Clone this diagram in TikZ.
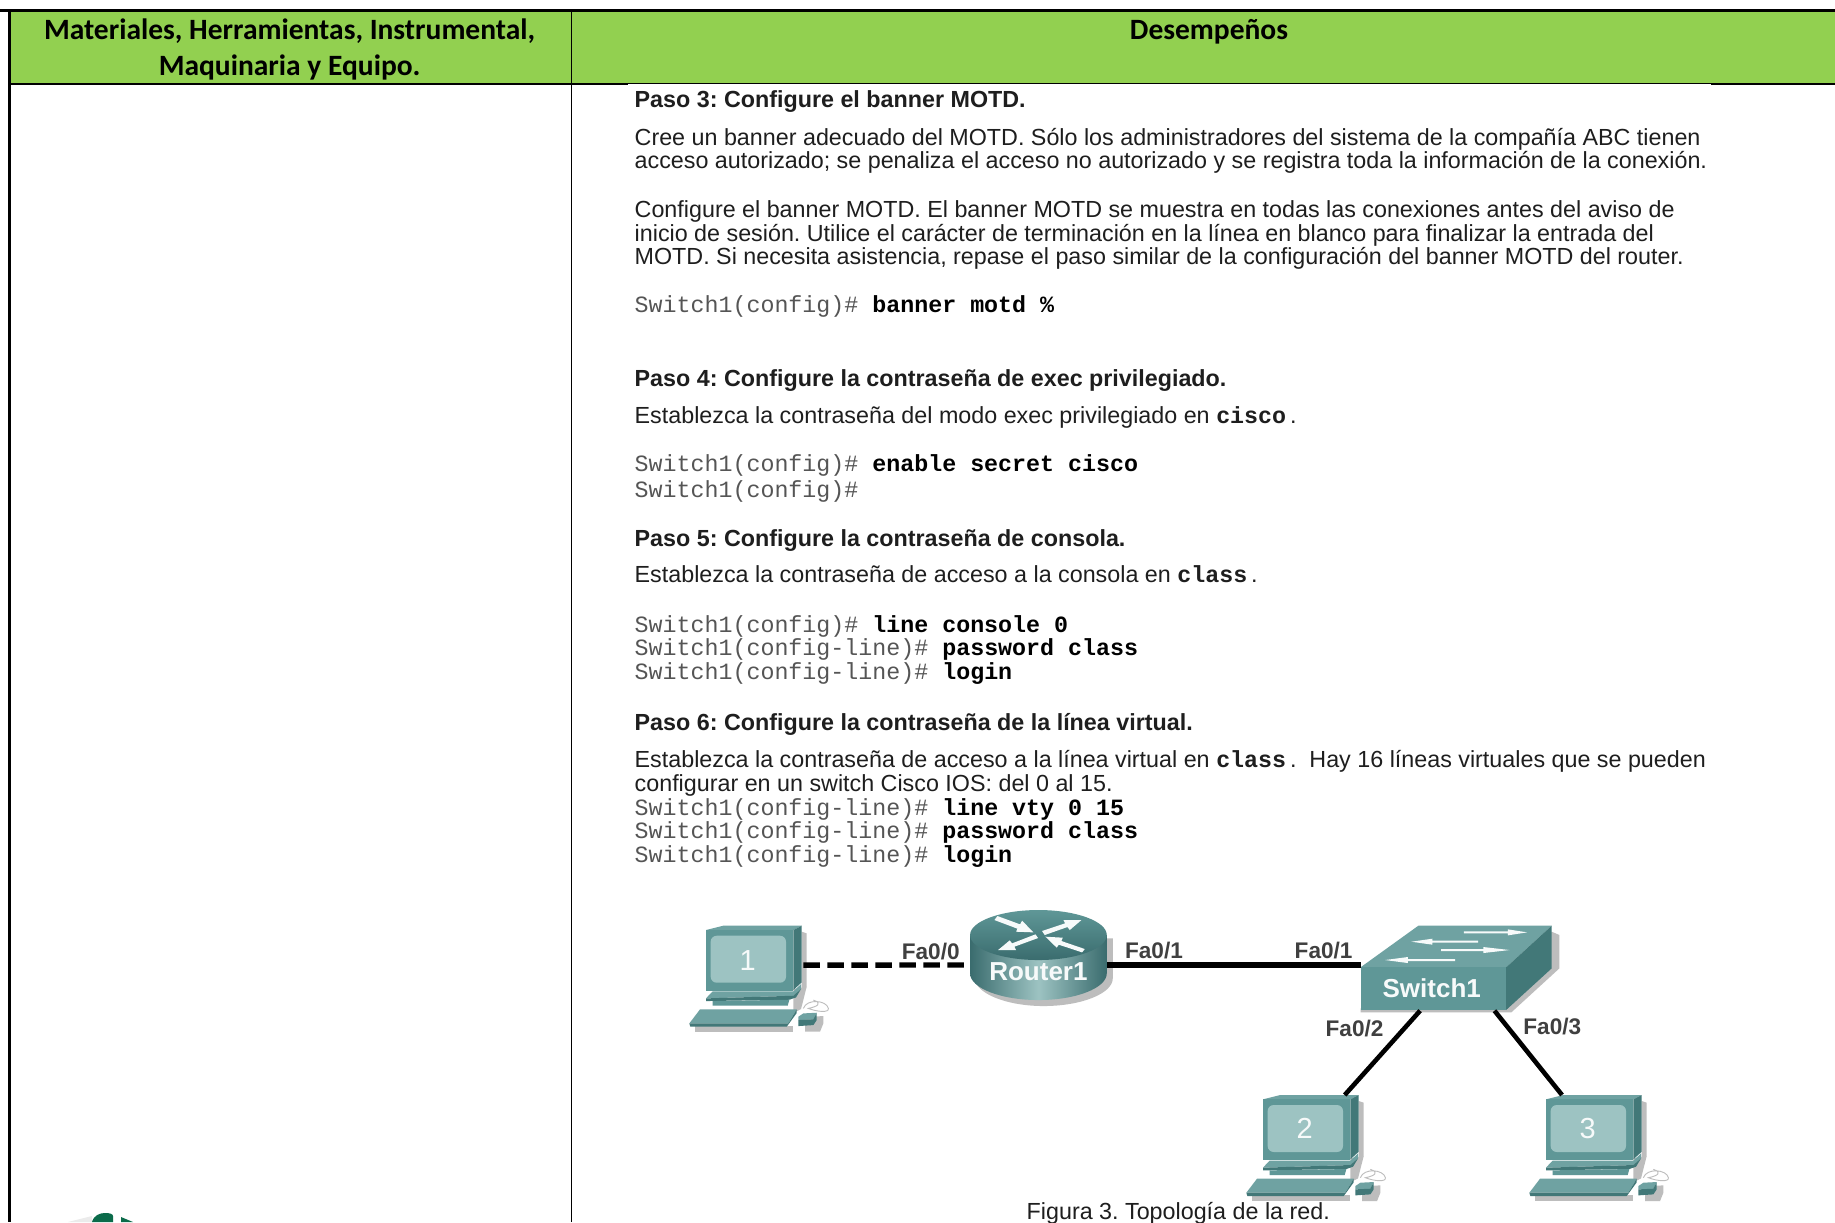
\documentclass[tikz,border=0pt]{standalone}
\usepackage{fontspec}
\setmainfont{Liberation Sans}
\setmonofont{Liberation Mono}
\newfontfamily\hdfont{Carlito}
\definecolor{hdgreen}{HTML}{92D050}
\definecolor{tealfront}{HTML}{5F9797}
\definecolor{tealtop}{HTML}{6FA2A2}
\definecolor{tealside}{HTML}{427878}
\definecolor{tealdark}{HTML}{3A6C6E}
\definecolor{teallight}{HTML}{9DC3C2}
\definecolor{shadowgr}{HTML}{BDBDBD}
\definecolor{inkgr}{HTML}{1E1E1E}
\definecolor{codegr}{HTML}{555555}
\definecolor{logogreen}{HTML}{0B6B4A}
\newcommand{\cmdb}[1]{{\bfseries\color{black}#1}}
\tikzset{
  rule/.style={black,line width=1.1pt},
  hdtext/.style={font=\hdfont\fontsize{14.75}{17}\selectfont\bfseries,anchor=base,inner sep=0pt,text=black},
  bodytext/.style={font=\frenchspacing\fontsize{11.65}{13}\selectfont,anchor=base west,inner sep=0pt,text=inkgr},
  headtext/.style={font=\frenchspacing\fontsize{11.65}{13}\selectfont\bfseries,anchor=base west,inner sep=0pt,text=inkgr},
  codetext/.style={font=\ttfamily\fontsize{11.65}{13}\selectfont,anchor=base west,inner sep=0pt,text=codegr},
  portlabel/.style={font=\fontsize{11.3}{13}\selectfont\bfseries,inner sep=0pt,text=inkgr!85},
  devlabel/.style={font=\fontsize{13}{15}\selectfont\bfseries,inner sep=0pt,text=white!92!teallight},
  pcnum/.style={font=\fontsize{14.5}{16}\selectfont,inner sep=0pt,text=white!92!teallight},
  link/.style={black,line width=2.7pt},
  dashlink/.style={link,dash pattern=on 8.2pt off 3.8pt},
  pcicon/.pic={
    \fill[shadowgr] (287,18)--(302,23)--(302,183)--(287,190)--cycle;
    \fill[shadowgr] (262,190)--(302,183)--(285,250)--(262,262)--cycle;
    \fill[shadowgr] (-33,300)--(262,300)--(262,318)--(-33,318)--cycle;
    \fill[tealtop] (0,13)--(52,0)--(287,0)--(262,13)--cycle;
    \fill[tealfront] (0,13)--(262,13)--(262,195)--(0,195)--cycle;
    \fill[tealside] (262,13)--(287,0)--(287,170)--(262,193)--cycle;
    \fill[teallight,rounded corners=3pt] (14,30) rectangle (240,171);
    \fill[tealtop] (10,207)--(20,197)--(262,197)--(285,175)--(285,190)--(262,210)--(0,218)--cycle;
    \fill[tealside] (0,218)--(262,210)--(285,190)--(270,215)--(250,222)--(0,226)--cycle;
    \fill[tealfront] (20,226)--(250,222)--(245,240)--(20,240)--cycle;
    \fill[tealtop] (-50,293)--(-18,251)--(272,251)--(247,293)--cycle;
    \fill[tealside] (-50,293)--(247,293)--(272,251)--(272,262)--(242,303)--(-47,303)--cycle;
    \draw[shadowgr,line width=.45pt] (292,248) .. controls (302,218) and (362,223) .. (367,248) .. controls (370,262) and (332,258) .. (307,248) .. controls (332,243) and (352,233) .. (322,223);
    \fill[shadowgr] (297,283)--(312,273)--(352,271)--(352,293)--(342,318)--(297,318)--cycle;
    \fill[tealtop] (277,273)--(292,263)--(332,261)--(322,281)--(277,283)--cycle;
    \fill[tealside] (277,283)--(322,281)--(332,261)--(332,283)--(322,298)--(277,301)--cycle;
  }
}
\begin{document}
\begin{tikzpicture}[x=0.5pt,y=-0.5pt]
\useasboundingbox (0,0) rectangle (1835,1222);
\fill[white] (0,0) rectangle (1835,1222);
\clip (0,0) rectangle (1835,1222);
% table
\fill[hdgreen] (9,10) rectangle (1835,84);
\draw[rule,line width=1.7pt] (0,10.5) -- (1835,10.5);
\draw[rule] (8,84) -- (628,84);
\draw[rule,line width=.6pt] (628,83.5) -- (1711,83.5);
\draw[rule] (1711,84) -- (1835,84);
\draw[rule,line width=1.05pt] (9.5,10) -- (9.5,1222);
\draw[rule,line width=.8pt] (571.3,10) -- (571.3,1222);
\node[hdtext] (h1a) at (289.6,39) {Materiales, Herramientas, Instrumental,};
\node[hdtext] (h1b) at (289.6,75) {Maquinaria y Equipo.};
\node[hdtext] (h2) at (1209,39) {Desempeños};
% text
\node[headtext] (p3) at (634.3,107.5) {Paso 3: Configure el banner MOTD.};
\node[bodytext] (t1) at (634.3,145) {Cree un banner adecuado del MOTD. Sólo los administradores del sistema de la compañía ABC tienen};
\node[bodytext] (t2) at (634.3,168.5) {acceso autorizado; se penaliza el acceso no autorizado y se registra toda la información de la conexión.};
\node[bodytext] (t3) at (634.3,217.5) {Configure el banner MOTD. El banner MOTD se muestra en todas las conexiones antes del aviso de};
\node[bodytext] (t4) at (634.3,241) {inicio de sesión. Utilice el carácter de terminación en la línea en blanco para finalizar la entrada del};
\node[bodytext] (t5) at (634.3,264.5) {MOTD. Si necesita asistencia, repase el paso similar de la configuración del banner MOTD del router.};
\node[codetext] (c1) at (634.3,312.5) {Switch1(config)\# \cmdb{banner motd \%}};
\node[headtext] (p4) at (634.3,386) {Paso 4: Configure la contraseña de exec privilegiado.};
\node[bodytext] (t6) at (634.3,423.5) {Establezca la contraseña del modo exec privilegiado en {\ttfamily\bfseries cisco}\,.};
\node[codetext] (c2) at (634.3,471.5) {Switch1(config)\# \cmdb{enable secret cisco}};
\node[codetext] (c3) at (634.3,497) {Switch1(config)\#};
\node[headtext] (p5) at (634.3,546.5) {Paso 5: Configure la contraseña de consola.};
\node[bodytext] (t7) at (634.3,582.5) {Establezca la contraseña de acceso a la consola en {\ttfamily\bfseries class}\,.};
\node[codetext] (c4) at (634.3,632) {Switch1(config)\# \cmdb{line console 0}};
\node[codetext] (c5) at (634.3,655.5) {Switch1(config-line)\# \cmdb{password class}};
\node[codetext] (c6) at (634.3,679) {Switch1(config-line)\# \cmdb{login}};
\node[headtext] (p6) at (634.3,730) {Paso 6: Configure la contraseña de la línea virtual.};
\node[bodytext] (t8) at (634.3,767.5) {Establezca la contraseña de acceso a la línea virtual en {\ttfamily\bfseries class}\,.\ \ Hay 16 líneas virtuales que se pueden};
\node[bodytext] (t9) at (634.3,791.5) {configurar en un switch Cisco IOS: del 0 al 15.};
\node[codetext] (c7) at (634.3,815) {Switch1(config-line)\# \cmdb{line vty 0 15}};
\node[codetext] (c8) at (634.3,838.5) {Switch1(config-line)\# \cmdb{password class}};
\node[codetext] (c9) at (634.3,862) {Switch1(config-line)\# \cmdb{login}};
\node[bodytext] (fig) at (1026.3,1219.5) {Figura 3. Topología de la red.};
% PCs
\begin{scope}[shift={(706,925.7)},x=0.1667pt,y=-0.1667pt]
\pic {pcicon};
\node[pcnum] (pc1) at (125,103) {1};
\coordinate (pc1port) at (292,118);
\end{scope}
\begin{scope}[shift={(1263,1095)},x=0.1667pt,y=-0.1667pt]
\pic {pcicon};
\node[pcnum] (pc2) at (125,100) {2};
\coordinate (pc2port) at (245,0);
\end{scope}
\begin{scope}[shift={(1546,1095)},x=0.1667pt,y=-0.1667pt]
\pic {pcicon};
\node[pcnum] (pc3) at (125,100) {3};
\coordinate (pc3port) at (48,0);
\end{scope}
% router
\begin{scope}[shift={(660,880)},x=0.1667pt,y=-0.1667pt]
\fill[shadowgr] (945,175) -- (945,295) .. controls (945,340) and (1040,378) .. (1150,378) .. controls (1265,378) and (1358,340) .. (1358,295) -- (1358,175) -- cycle;
\shade[left color=tealdark,right color=tealdark,middle color=teallight] (930,165) -- (930,280) .. controls (930,324) and (1022,360) .. (1135,360) .. controls (1248,360) and (1340,324) .. (1340,280) -- (1340,165) -- cycle;
\shade[top color=tealfront,bottom color=tealdark] (930,165) .. controls (930,124) and (1022,90) .. (1135,90) .. controls (1248,90) and (1340,124) .. (1340,165) .. controls (1340,206) and (1248,240) .. (1135,240) .. controls (1022,240) and (930,206) .. (930,165) -- cycle;
\fill[white!92!teallight] (1003,120)--(1012,108)--(1080,133)--(1086,122)--(1120,157)--(1068,155)--(1072,146)--cycle;
\fill[white!92!teallight] (1264,120)--(1210,120)--(1215,130)--(1146,153)--(1154,165)--(1222,141)--(1229,150)--cycle;
\fill[white!92!teallight] (1014,210)--(1068,210)--(1063,200)--(1134,174)--(1126,163)--(1056,190)--(1049,181)--cycle;
\fill[white!92!teallight] (1156,170)--(1208,173)--(1204,183)--(1274,207)--(1266,217)--(1196,194)--(1190,203)--cycle;
\node[devlabel] (router) at (1135,275) {Router1};
\coordinate (rleft) at (930,255);
\coordinate (rright) at (1340,255);
\end{scope}
% switch
\begin{scope}[shift={(1150,880)},x=0.1754pt,y=-0.1667pt]
\fill[shadowgr] (1145,155)--(1167,165)--(1167,265)--(1030,397)--(600,397)--(600,385)--(1015,385)--cycle;
\fill[tealtop] (600,262)--(765,137)--(1145,137)--(1015,262)--cycle;
\fill[tealfront] (600,262) rectangle (1015,390);
\fill[tealside] (1015,262)--(1145,137)--(1145,265)--(1015,390)--cycle;
\fill[white!92!teallight] (895,154)--(1020,154)--(1020,148)--(1075,157)--(1020,166)--(1020,160)--(895,160)--cycle;
\fill[white!92!teallight] (935,182)--(805,182)--(805,176)--(745,185)--(805,194)--(805,188)--(935,188)--cycle;
\fill[white!92!teallight] (830,207)--(950,207)--(950,201)--(1025,210)--(950,219)--(950,213)--(830,213)--cycle;
\fill[white!92!teallight] (870,237)--(735,237)--(735,231)--(670,240)--(735,249)--(735,243)--(870,243)--cycle;
\node[devlabel] (switch) at (803,325) {Switch1};
\coordinate (sleft) at (600,255);
\coordinate (sb2) at (770,392);
\coordinate (sb3) at (982,392);
\end{scope}
% connectors
\draw[dashlink] (pc1port) -- (rleft);
\draw[link] (rright) -- (sleft);
\draw[link,line width=2.3pt] (sb2) -- (pc2port);
\draw[link,line width=2.3pt] (sb3) -- (pc3port);
% port labels
\node[portlabel] (la) at (930.7,951.7) {Fa0/0};
\node[portlabel] (lb) at (1154,950.5) {Fa0/1};
\node[portlabel] (lc) at (1323.6,951) {Fa0/1};
\node[portlabel] (ld) at (1354.5,1029) {Fa0/2};
\node[portlabel] (le) at (1552.3,1026.7) {Fa0/3};
% logo fragment
\fill[black!8] (68,1222) -- (92,1216) -- (92,1222) -- cycle;
\fill[logogreen] (92,1222) .. controls (94,1215) and (100,1213) .. (105,1213) .. controls (110,1213) and (113,1214) .. (113,1216) -- (113,1222) -- cycle;
\fill[logogreen] (121,1217) -- (133,1222) -- (121,1222) -- cycle;
\end{tikzpicture}
\end{document}
